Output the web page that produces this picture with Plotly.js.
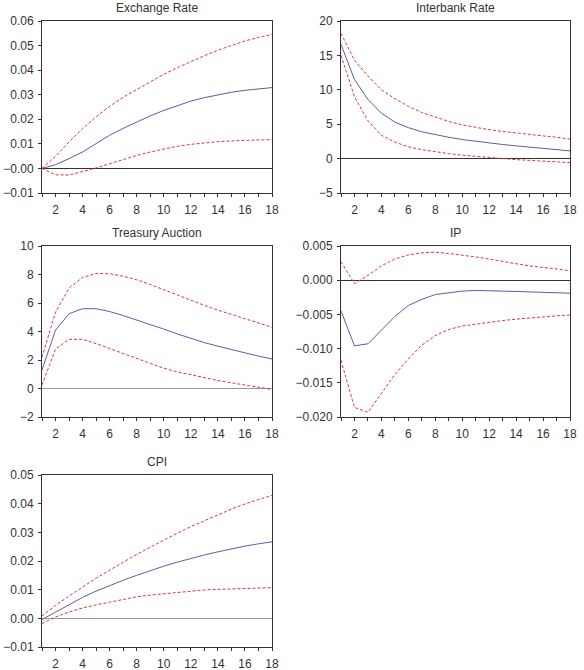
<!DOCTYPE html>
<html>
<head>
<meta charset="utf-8">
<script src="https://cdn.plot.ly/plotly-3.0.1.min.js"></script>
<style>html,body{margin:0;padding:0;background:#fff;}#chart{width:584px;height:670px;}</style>
</head>
<body>
<div id="chart"></div>
<script>
const periods = [1,2,3,4,5,6,7,8,9,10,11,12,13,14,15,16,17,18];
const xTickVals = periods;
const xTickText = ['', '2', '', '4', '', '6', '', '8', '', '10', '', '12', '', '14', '', '16', '', '18'];

const panelTitles = ['Exchange Rate', 'Interbank Rate', 'Treasury Auction', 'IP', 'CPI'];

// Exchange Rate
const exMean  = [0.0000,0.0015,0.0040,0.0067,0.0101,0.0135,0.0163,0.0190,0.0214,0.0236,0.0256,0.0274,0.0288,0.0300,0.0310,0.0318,0.0324,0.0329];
const exUpper = [0.0000,0.0049,0.0108,0.0162,0.0210,0.0253,0.0290,0.0322,0.0354,0.0383,0.0410,0.0436,0.0459,0.0481,0.0501,0.0519,0.0533,0.0545];
const exLower = [0.0000,-0.0026,-0.0027,-0.0014,0.0002,0.0019,0.0037,0.0053,0.0067,0.0080,0.0090,0.0098,0.0104,0.0109,0.0112,0.0115,0.0116,0.0117];
const exTickVals = [-0.01,0,0.01,0.02,0.03,0.04,0.05,0.06];
const exTickText = ['\u22120.01','\u22120.00','0.01','0.02','0.03','0.04','0.05','0.06'];

// Interbank Rate
const ibMean  = [16.6,11.5,8.6,6.6,5.3,4.5,3.9,3.45,3.1,2.77,2.5,2.28,2.05,1.85,1.65,1.46,1.28,1.12];
const ibUpper = [18.2,14.3,12.0,10.0,8.7,7.6,6.7,6.0,5.4,4.9,4.5,4.2,3.95,3.7,3.5,3.3,3.1,2.85];
const ibLower = [15.0,9.0,5.5,3.4,2.4,1.7,1.3,0.97,0.72,0.5,0.3,0.15,0.0,-0.15,-0.28,-0.4,-0.5,-0.58];
const ibTickVals = [-5,0,5,10,15,20];
const ibTickText = ['\u22125','0','5','10','15','20'];

// Treasury Auction
const taMean  = [1.3,4.1,5.25,5.6,5.6,5.4,5.12,4.82,4.5,4.17,3.83,3.5,3.22,2.97,2.72,2.5,2.27,2.07];
const taUpper = [2.2,5.35,7.05,7.8,8.07,8.05,7.88,7.63,7.3,6.93,6.55,6.16,5.83,5.5,5.2,4.9,4.6,4.3];
const taLower = [0.25,2.77,3.45,3.45,3.15,2.8,2.42,2.07,1.73,1.42,1.17,0.95,0.75,0.56,0.4,0.25,0.05,-0.07];
const taTickVals = [-2,0,2,4,6,8,10];
const taTickText = ['\u22122','0','2','4','6','8','10'];

// IP
const ipMean  = [-0.0045,-0.0096,-0.0093,-0.0073,-0.0053,-0.0037,-0.0028,-0.0021,-0.0018,-0.0016,-0.0015,-0.0015,-0.0016,-0.00165,-0.0017,-0.0018,-0.00185,-0.0019];
const ipUpper = [0.0027,-0.0005,0.0007,0.0021,0.0031,0.0037,0.0040,0.0041,0.0039,0.0037,0.0034,0.0031,0.0027,0.0024,0.0021,0.0019,0.0016,0.0014];
const ipLower = [-0.0117,-0.0186,-0.0193,-0.0166,-0.0138,-0.0115,-0.0095,-0.0081,-0.0072,-0.0067,-0.0064,-0.0061,-0.0059,-0.0057,-0.0055,-0.0054,-0.0052,-0.0051];
const ipTickVals = [-0.020,-0.015,-0.010,-0.005,0,0.005];
const ipTickText = ['\u22120.020','\u22120.015','\u22120.010','\u22120.005','0.000','0.005'];

// CPI
const cpiMean  = [-0.0004,0.0022,0.0049,0.0073,0.0095,0.0115,0.0133,0.0150,0.0167,0.0182,0.0196,0.0209,0.0221,0.0232,0.0243,0.0252,0.0260,0.0267];
const cpiUpper = [0.0008,0.0045,0.0078,0.0110,0.0140,0.0168,0.0196,0.0223,0.0248,0.0273,0.0297,0.0320,0.0341,0.0362,0.0381,0.0399,0.0415,0.0429];
const cpiLower = [-0.0018,0.0005,0.0022,0.0036,0.0047,0.0057,0.0066,0.0075,0.0081,0.0086,0.0091,0.0096,0.0099,0.0101,0.0103,0.0105,0.0106,0.0107];
const cpiTickVals = [-0.01,0,0.01,0.02,0.03,0.04,0.05];
const cpiTickText = ['\u22120.01','0.00','0.01','0.02','0.03','0.04','0.05'];

const panels = [
  {mean: exMean, up: exUpper, lo: exLower, tv: exTickVals, tt: exTickText, range: [-0.01, 0.06], zc: '#333', zw: 1},
  {mean: ibMean, up: ibUpper, lo: ibLower, tv: ibTickVals, tt: ibTickText, range: [-5, 20], zc: '#333', zw: 1},
  {mean: taMean, up: taUpper, lo: taLower, tv: taTickVals, tt: taTickText, range: [-2, 10], zc: '#9a9a9a', zw: 1.5},
  {mean: ipMean, up: ipUpper, lo: ipLower, tv: ipTickVals, tt: ipTickText, range: [-0.020, 0.005], zc: '#333', zw: 1},
  {mean: cpiMean, up: cpiUpper, lo: cpiLower, tv: cpiTickVals, tt: cpiTickText, range: [-0.01, 0.05], zc: '#9a9a9a', zw: 1.5}
];

const W = 584, H = 670;
const boxes = [
  {l: 42, r: 272, t: 21, b: 193},
  {l: 341, r: 570, t: 21, b: 193},
  {l: 42, r: 272, t: 246, b: 417},
  {l: 341, r: 570, t: 246, b: 417},
  {l: 42, r: 272, t: 475, b: 647}
];

const blue = '#5b5da8';
const red = '#d8383f';
const font = {family: 'Liberation Sans, Arial, sans-serif', size: 12, color: '#333'};

const data = [];
const layout = {
  width: W, height: H,
  margin: {l: 0, r: 0, t: 0, b: 0},
  paper_bgcolor: '#fff', plot_bgcolor: '#fff',
  showlegend: false,
  font: font,
  annotations: []
};

panels.forEach((p, i) => {
  const k = i === 0 ? '' : String(i + 1);
  const xa = 'x' + k, ya = 'y' + k;
  data.push({x: periods, y: p.mean, xaxis: xa, yaxis: ya, mode: 'lines', line: {color: blue, width: 1}, hoverinfo: 'skip'});
  data.push({x: periods, y: p.up, xaxis: xa, yaxis: ya, mode: 'lines', line: {color: red, width: 1, dash: '3px,2px'}, hoverinfo: 'skip'});
  data.push({x: periods, y: p.lo, xaxis: xa, yaxis: ya, mode: 'lines', line: {color: red, width: 1, dash: '3px,2px'}, hoverinfo: 'skip'});
  const b = boxes[i];
  layout['xaxis' + k] = {
    domain: [b.l / W, b.r / W], anchor: ya, range: [1, 18],
    tickmode: 'array', tickvals: xTickVals, ticktext: xTickText,
    ticks: 'outside', ticklen: 3, tickcolor: '#333', tickwidth: 1,
    ticklabelstandoff: 3,
    showline: true, linecolor: '#333', linewidth: 1, mirror: true,
    showgrid: false, zeroline: false, tickfont: font, fixedrange: true
  };
  layout['yaxis' + k] = {
    domain: [1 - b.b / H, 1 - b.t / H], anchor: xa, range: p.range,
    tickmode: 'array', tickvals: p.tv, ticktext: p.tt,
    ticks: 'outside', ticklen: 3, tickcolor: '#333', tickwidth: 1,
    ticklabelstandoff: 2,
    showline: true, linecolor: '#333', linewidth: 1, mirror: true,
    showgrid: false, zeroline: true, zerolinecolor: p.zc, zerolinewidth: p.zw,
    tickfont: font, fixedrange: true
  };
  layout.annotations.push({
    text: panelTitles[i], xref: 'paper', yref: 'paper',
    x: (b.l + b.r) / 2 / W, y: 1 - (b.t - 4) / H,
    xanchor: 'center', yanchor: 'bottom', showarrow: false,
    font: {family: font.family, size: 12, color: '#333'}
  });
});

Plotly.newPlot('chart', data, layout, {displayModeBar: false, staticPlot: true});
</script>
</body>
</html>
